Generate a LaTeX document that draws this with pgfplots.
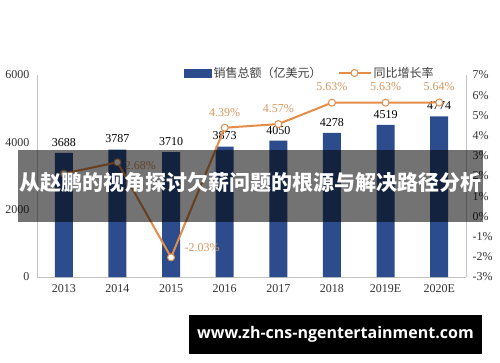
\documentclass[border=0pt]{standalone}
\usepackage{fontspec}
\setmainfont{Liberation Serif}
\newfontfamily\cjk{Noto Sans CJK SC}
\newfontfamily\wm{Open Sans}
\usepackage{pgfplots}
\pgfplotsset{compat=1.18}
\definecolor{barblue}{RGB}{44,76,141}
\definecolor{lineor}{RGB}{228,140,72}
\definecolor{pctor}{RGB}{214,152,98}
\definecolor{axgray}{RGB}{195,195,195}
\begin{document}
\begin{tikzpicture}[x=1pt,y=1pt]
\useasboundingbox (0,0) rectangle (500,362);
\fill[white] (0,0) rectangle (500,362);
\begin{axis}[
  at={(37pt,85pt)}, anchor=south west, scale only axis,
  width=429pt, height=202pt,
  xmin=-0.5, xmax=7.5, ymin=0, ymax=6000,
  xtick={0,...,7},
  xticklabels={2013,2014,2015,2016,2017,2018,2019E,2020E},
  ytick={0,2000,4000,6000},
  axis x line*=bottom, axis y line*=left,
  axis line style={axgray, line width=0.8pt, -},
  major tick length=0pt,
  tick label style={font=\fontsize{12}{12}\selectfont, text=black!80},
  /pgf/number format/assume math mode=true,
  /pgf/number format/1000 sep={},
  xticklabel style={yshift=-4pt},
  yticklabel style={xshift=-4pt},
  ybar, bar width=18pt,
  nodes near coords,
  nodes near coords style={font=\fontsize{12}{12}\selectfont, text=black, yshift=3pt},
]
\addplot[fill=barblue, draw=none] coordinates {(0,3688) (1,3787) (2,3710) (3,3873) (4,4050) (5,4278) (6,4519) (7,4774)};
\end{axis}
\begin{axis}[
  at={(37pt,85pt)}, anchor=south west, scale only axis,
  width=429pt, height=202pt,
  xmin=-0.5, xmax=7.5, ymin=-3, ymax=7,
  axis x line=none, axis y line*=right,
  axis line style={axgray, line width=0.8pt, -},
  major tick length=0pt,
  ytick={-3,-2,...,7},
  yticklabel={\pgfmathprintnumber{\tick}\%},
  tick label style={font=\fontsize{12}{12}\selectfont, text=black!80},
  /pgf/number format/assume math mode=true,
  yticklabel style={xshift=3pt},
  legend columns=2,
  legend style={at={(0.636,1.01)}, anchor=center, draw=none, fill=none,
    font=\cjk\fontsize{12}{12}\selectfont, text=black!75,
    /tikz/every even column/.append style={column sep=14pt},
    nodes={inner sep=2pt}},
]
\addlegendimage{legend image code/.code={\fill[barblue] (0pt,-4pt) rectangle (27pt,4pt);}}
\addlegendentry{销售总额（亿美元）}
\addplot[lineor, line width=2pt, mark=*, mark size=3.5pt,
  mark options={fill=white, draw=lineor, line width=1pt},
  legend image code/.code={\draw[mark repeat=2, mark phase=2] plot coordinates {(0pt,0pt) (16pt,0pt) (32pt,0pt)};}]
  coordinates {(0,2.12) (1,2.68) (2,-2.03) (3,4.39) (4,4.57) (5,5.63) (6,5.63) (7,5.64)};
\addlegendentry{同比增长率}
\addplot[draw=none, mark=none, forget plot, nodes near coords, point meta=explicit symbolic,
  nodes near coords style={text=pctor, font=\fontsize{12}{12}\selectfont, anchor=south, yshift=8pt}]
  coordinates {(3,4.39)[4.39\%] (4,4.57)[4.57\%] (5,5.63)[5.63\%] (6,5.63)[5.63\%] (7,5.64)[5.64\%]};
\addplot[draw=none, mark=none, forget plot, nodes near coords, point meta=explicit symbolic,
  nodes near coords style={text=pctor, font=\fontsize{12}{12}\selectfont, anchor=west, xshift=4pt, yshift=-3pt}]
  coordinates {(1,2.68)[2.68\%]};
\addplot[draw=none, mark=none, forget plot, nodes near coords, point meta=explicit symbolic,
  nodes near coords style={text=pctor, font=\fontsize{12}{12}\selectfont, anchor=west, xshift=10pt, yshift=10pt}]
  coordinates {(2,-2.03)[-2.03\%]};
\end{axis}
\fill[black, opacity=0.55] (18,140) rectangle (483,212);
\node[text=white, font=\cjk\bfseries\fontsize{21}{21}\selectfont] at (250,180) {从赵鹏的视角探讨欠薪问题的根源与解决路径分析};
\fill[black] (189,8) rectangle (482,47);
\node[text=white, font=\wm\bfseries\fontsize{16}{16}\selectfont] at (335.5,28) {www.zh-cns-ngentertainment.com};
\end{tikzpicture}
\end{document}
